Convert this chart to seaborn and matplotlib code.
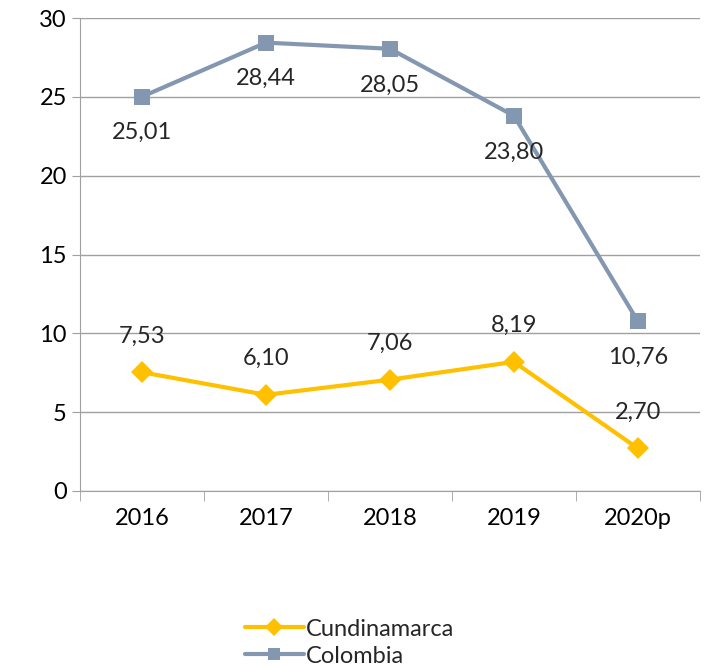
import pandas as pd
import seaborn as sns
import matplotlib.pyplot as plt

years = ["2016", "2017", "2018", "2019", "2020p"]
cundinamarca = [7.53, 6.10, 7.06, 8.19, 2.70]
colombia = [25.01, 28.44, 28.05, 23.80, 10.76]

df = pd.DataFrame({
    "year": years * 2,
    "value": cundinamarca + colombia,
    "serie": ["Cundinamarca"] * 5 + ["Colombia"] * 5,
})

sns.set_style("white")
plt.rcParams["font.family"] = ["Lato", "DejaVu Sans"]

fig = plt.figure(figsize=(7.12, 6.68), dpi=100)
ax = fig.add_axes([0.1124, 0.265, 0.8706, 0.708])

palette = {"Cundinamarca": "#FFC000", "Colombia": "#8497B0"}
sns.lineplot(data=df, x="year", y="value", hue="serie", style="serie",
             markers={"Cundinamarca": "D", "Colombia": "s"},
             dashes=False, palette=palette, linewidth=3,
             markersize=11, markeredgewidth=0, ax=ax, sort=False)

for i, v in enumerate(cundinamarca):
    ax.annotate(f"{v:.2f}".replace(".", ","), (i, v), xytext=(0, 26),
                textcoords="offset points", ha="center", va="center", fontsize=17)
for i, v in enumerate(colombia):
    ax.annotate(f"{v:.2f}".replace(".", ","), (i, v), xytext=(0, -26),
                textcoords="offset points", ha="center", va="center", fontsize=17)

ax.set_xlim(-0.5, 4.5)
ax.set_ylim(0, 30)
ax.set_yticks(range(0, 31, 5))
ax.yaxis.grid(True, color="#A0A0A0", linewidth=1)
ax.set_xlabel("")
ax.set_ylabel("")
ax.tick_params(axis="both", labelsize=17, colors="black")
ax.tick_params(axis="y", length=6, color="#A0A0A0", direction="out", left=True)
ax.set_xticks(range(5))
ax.set_xticks([x - 0.5 for x in range(6)], minor=True)
ax.tick_params(axis="x", which="major", length=0, pad=12)
ax.tick_params(axis="x", which="minor", length=7, color="#A0A0A0", direction="out", bottom=True)
for s in ["top", "right"]:
    ax.spines[s].set_visible(False)
for s in ["left", "bottom"]:
    ax.spines[s].set_color("#A0A0A0")

leg = ax.legend(loc="upper left", bbox_to_anchor=(0.266, -0.27), frameon=False,
                fontsize=17, handlelength=2.5, handletextpad=0.1, labelspacing=0.25,
                borderaxespad=0, borderpad=0, markerscale=0.85)
ax.set_axisbelow(True)

fig.savefig("out.png", dpi=100)
